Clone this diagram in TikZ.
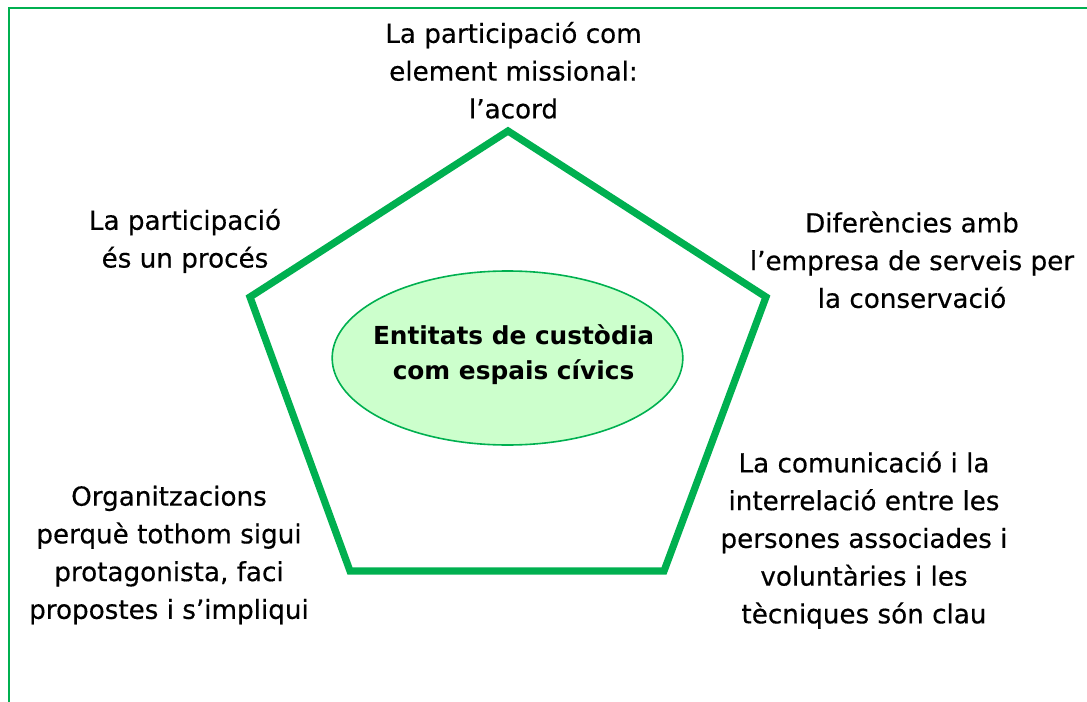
\documentclass[tikz,border=0pt]{standalone}
\usepackage{fontspec}
\setmainfont{DejaVu Sans}
\newfontfamily\lblfont[FakeBold=0.45]{DejaVu Sans}
\usetikzlibrary{shapes.geometric}
\definecolor{pgreen}{HTML}{00B050}
\definecolor{efill}{HTML}{CCFFCC}
\tikzset{
  lbl/.style={align=center, inner sep=0pt, text=black,
    font=\lblfont\fontsize{19.65pt}{28.3pt}\selectfont},
  ctr/.style={align=center, inner sep=0pt, text=black,
    font=\bfseries\fontsize{18.6pt}{26.3pt}\selectfont},
  pent/.style={draw=pgreen, line width=5.4pt, line join=miter},
  frame/.style={draw=pgreen, line width=2pt},
  ellbox/.style={ellipse, draw=pgreen, fill=efill, line width=1.2pt,
    minimum width=263pt, minimum height=130.5pt, inner sep=0pt}
}
\begin{document}
\begin{tikzpicture}[x=0.75pt, y=-0.75pt]
\useasboundingbox (0,0) rectangle (1087,702);
% frame
\coordinate (fbl) at (9,702);
\coordinate (ftl) at (9,8);
\coordinate (ftr) at (1087,8);
\draw[frame] (fbl) -- (ftl) -- (ftr);
% pentagon
\coordinate (pt) at (508,131);
\coordinate (pr) at (766,297);
\coordinate (pbr) at (664,571);
\coordinate (pbl) at (350,571);
\coordinate (pl) at (250,297);
\draw[pent] (pt) -- (pr) -- (pbr) -- (pbl) -- (pl) -- cycle;
% central ellipse
\node[ellbox] (ell) at (507.5,358) {};
\node[ctr] (elltext) at (513.5,354.5) {Entitats de custòdia\\com espais cívics};
% labels
\node[lbl] (top) at (513.5,70.3) {La participació com\\element missional:\\l’acord};
\node[lbl] (rtop) at (912,259.8) {Diferències amb\\l’empresa de serveis per\\la conservació};
\node[lbl] (ltop) at (185,240.9) {La participació\\és un procés};
\node[lbl] (rbot) at (864,540.1) {La comunicació i la\\interrelació entre les\\persones associades i\\voluntàries i les\\tècniques són clau};
\node[lbl] (lbot) at (169,555) {Organitzacions\\perquè tothom sigui\\protagonista, faci\\propostes i s’impliqui};
\end{tikzpicture}
\end{document}
